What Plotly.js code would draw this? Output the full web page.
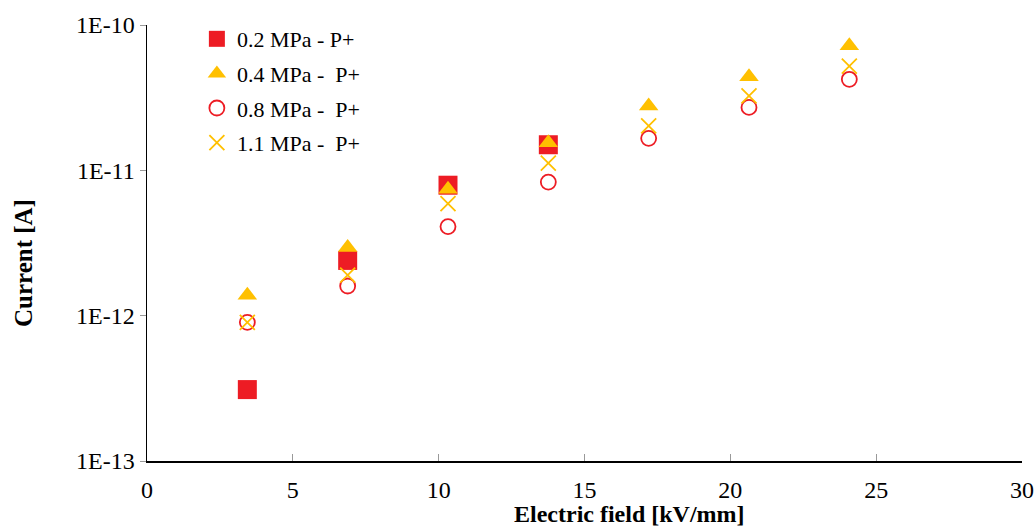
<!DOCTYPE html>
<html>
<head>
<meta charset="utf-8">
<script src="https://cdn.plot.ly/plotly-3.0.1.min.js"></script>
<style>html,body{margin:0;padding:0;background:#fff;}#chart{width:1036px;height:529px;}</style>
</head>
<body>
<div id="chart"></div>
<script>
const xField = [3.44, 6.88, 10.32, 13.76, 17.2, 20.64, 24.08];
const i02 = [3.1e-13, 2.4e-12, 7.9e-12, 1.5e-11];
const i04 = [1.38e-12, 2.95e-12, 7.4e-12, 1.55e-11, 2.77e-11, 4.4e-11, 7.2e-11];
const i08 = [9.0e-13, 1.6e-12, 4.1e-12, 8.3e-12, 1.66e-11, 2.71e-11, 4.23e-11];
const i11 = [9.0e-13, 1.9e-12, 5.9e-12, 1.12e-11, 2.02e-11, 3.25e-11, 5.22e-11];
const names = ['0.2 MPa - P+', '0.4 MPa -\u00a0 P+', '0.8 MPa -\u00a0 P+', '1.1 MPa -\u00a0 P+'];
const yTicks = [1e-13, 1e-12, 1e-11, 1e-10];
const yTickText = ['1E-13', '1E-12', '1E-11', '1E-10'];
const xTitle = 'Electric field [kV/mm]';
const yTitle = 'Current [A]';

const red = '#ED1C24', gold = '#FFC000';
const traces = [
  {x: xField.slice(0, i02.length), y: i02, name: names[0], legendgroup: 'a', mode: 'markers', type: 'scatter',
   marker: {symbol: 'square', size: 19, color: red}},
  {x: xField, y: i04, name: names[1], legendgroup: 'b', mode: 'markers', type: 'scatter',
   marker: {symbol: 'triangle-up', size: 17, color: gold}},
  {x: xField, y: i08, name: names[2], legendgroup: 'c', mode: 'markers', type: 'scatter',
   marker: {symbol: 'circle-open', size: 15, color: red, line: {width: 1.8, color: red}}},
  {x: xField, y: i11, name: names[3], legendgroup: 'd', mode: 'markers', type: 'scatter',
   marker: {symbol: 'x-thin-open', size: 15, color: gold, line: {width: 1.8, color: gold}}}
];

const layout = {
  width: 1036, height: 529,
  margin: {l: 147, r: 14, t: 25, b: 68},
  paper_bgcolor: '#fff', plot_bgcolor: '#fff',
  font: {family: '"Liberation Serif", "Times New Roman", serif', size: 22, color: '#000'},
  showlegend: true,
  legend: {x: 0.057, y: 1.016, xanchor: 'left', yanchor: 'top', bgcolor: 'rgba(0,0,0,0)',
           traceorder: 'grouped', tracegroupgap: 3, itemwidth: 30, font: {size: 22}},
  xaxis: {range: [0, 30], dtick: 5, tick0: 0, showgrid: false, zeroline: false,
          showline: true, linecolor: '#000', linewidth: 1.5,
          ticks: 'inside', ticklen: 7, tickcolor: '#999', tickwidth: 1,
          tickfont: {size: 24}, ticklabelstandoff: 7},
  yaxis: {type: 'log', range: [-13, -10], tickvals: yTicks, ticktext: yTickText,
          showgrid: false, zeroline: false, showline: true, linecolor: '#000', linewidth: 1.5,
          ticks: 'outside', ticklen: 6, tickcolor: '#999', tickwidth: 1,
          tickfont: {size: 24}},
  annotations: [
    {text: '<b>' + xTitle + '</b>', xref: 'paper', yref: 'paper', x: 0.551, y: -0.1225,
     xanchor: 'center', yanchor: 'middle', showarrow: false, font: {size: 24}},
    {text: '<b>' + yTitle + '</b>', xref: 'paper', yref: 'paper', x: -0.1417, y: 0.454,
     xanchor: 'center', yanchor: 'middle', showarrow: false, textangle: -90, font: {size: 25}}
  ]
};

Plotly.newPlot('chart', traces, layout, {displayModeBar: false, staticPlot: true});
</script>
</body>
</html>
